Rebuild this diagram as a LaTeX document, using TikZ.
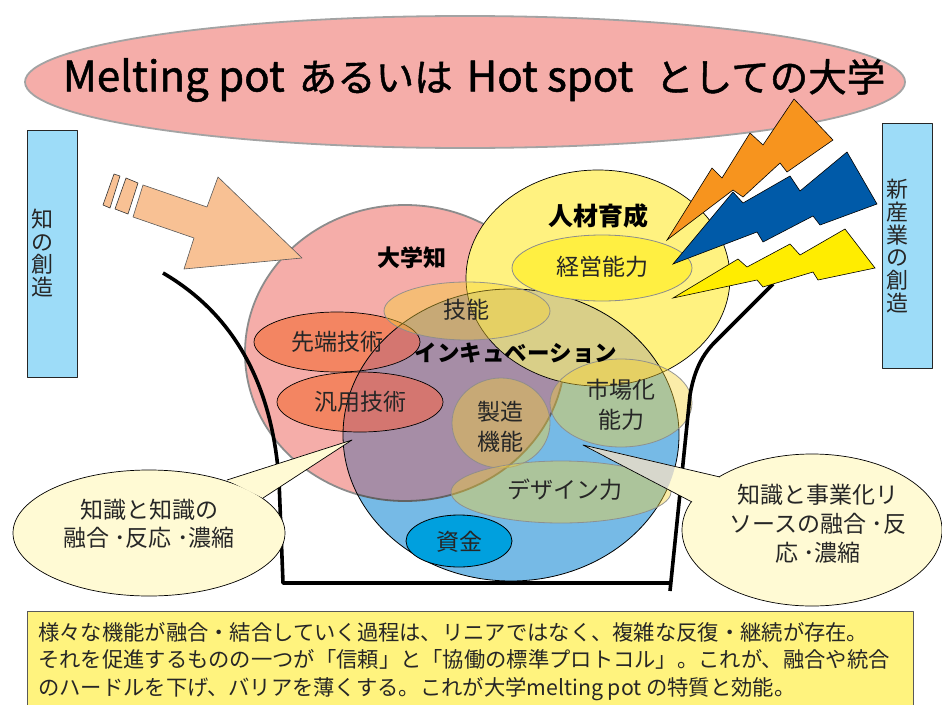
\documentclass[tikz,border=0pt]{standalone}
\usepackage{fontspec}
\setmainfont{Noto Sans CJK JP}
\newfontfamily\titlefont{Noto Sans CJK JP}[FakeBold=1.2]

\definecolor{potpink}{RGB}{245,173,169}
\definecolor{potblue}{RGB}{118,186,230}
\definecolor{potyellow}{RGB}{255,242,128}
\definecolor{mauve}{RGB}{166,141,166}
\definecolor{khaki}{RGB}{217,207,136}
\definecolor{redell}{RGB}{243,133,98}
\definecolor{redin}{RGB}{212,118,112}
\definecolor{goldtint}{RGB}{247,210,52}
\definecolor{mgmt}{RGB}{255,239,66}
\definecolor{fund}{RGB}{0,160,222}
\definecolor{cream}{RGB}{255,250,212}
\definecolor{creamgray}{RGB}{215,215,204}
\definecolor{sidebox}{RGB}{157,220,248}
\definecolor{peach}{RGB}{248,193,148}
\definecolor{boltorange}{RGB}{247,148,30}
\definecolor{boltblue}{RGB}{0,90,168}
\definecolor{boltyellow}{RGB}{255,237,0}
\definecolor{notebox}{RGB}{255,243,126}
\definecolor{ink}{RGB}{38,38,38}
\definecolor{rimgray}{RGB}{140,140,140}

% shapes of the melting pot
\newcommand\shpPink{(405,353) ellipse [x radius=160, y radius=148]}
\newcommand\shpYellow{(598,278) ellipse [x radius=132, y radius=108]}
\newcommand\shpBlue{(511,435) ellipse [x radius=168, y radius=146]}
\newcommand\shpSentan{(337,342) ellipse [x radius=83, y radius=30]}
\newcommand\shpHanyo{(360,402) ellipse [x radius=83, y radius=30]}
\newcommand\latin{\fontsize{42}{44}\selectfont}
\newcommand\kana{\fontsize{38.5}{44}\selectfont}

\tikzset{
  lbl/.style={font=\fontsize{23}{26}\selectfont, text=ink, inner sep=0pt, align=center},
  lblbold/.style={font=\bfseries\fontsize{23}{26}\selectfont, text=black, inner sep=0pt},
  tint/.style={fill=goldtint, fill opacity=0.42, draw=rimgray, draw opacity=0.9, line width=0.8pt},
  redrim/.style={draw=black, line width=0.7pt},
  potline/.style={line width=3.6pt, black},
  bolt/.style={draw=black, line width=0.6pt, line join=miter},
  sidetext/.style={font=\fontsize{22}{22.8}\selectfont, text=ink, inner sep=0pt, align=center},
}

\begin{document}
\begin{tikzpicture}[x=1pt, y=-1pt, line join=round]
\useasboundingbox (0,0) rectangle (942,704);
\fill[white] (0,0) rectangle (942,704);

% ---- title ----
\filldraw[fill=potpink, draw=rimgray!80, line width=1.8pt] (465,82) ellipse [x radius=440, y radius=66];
\node[font=\titlefont, text=black, inner sep=0pt] (title) at (474,80)
  {{\latin Melting pot}\hspace{14pt}{\kana あるいは}\hspace{14pt}{\latin Hot spot}\hspace{22pt}{\kana としての大学}};

% ---- circles of the pot ----
\fill[potpink] \shpPink;
\draw[rimgray, line width=1.8pt] \shpPink;
\fill[potyellow] \shpYellow;
\fill[redell] \shpSentan;
\fill[redell] \shpHanyo;
\fill[potblue] \shpBlue;
\begin{scope}
  \clip \shpBlue;
  \fill[mauve] \shpPink;
  \fill[redin] \shpSentan;
  \fill[redin] \shpHanyo;
  \draw[rimgray!70!black, line width=1.8pt] \shpPink;
  \fill[khaki] \shpYellow;
\end{scope}
\draw[black, line width=0.7pt] \shpYellow;
\draw[black, line width=0.8pt] \shpBlue;
\draw[redrim] \shpSentan;
\draw[redrim] \shpHanyo;

% inner function ellipses
\filldraw[fill=mgmt, draw=rimgray, line width=0.8pt] (602,268) ellipse [x radius=90, y radius=33];
\path[tint] (467,311) ellipse [x radius=83, y radius=29];
\path[tint] (501,423) ellipse [x radius=49, y radius=45];
\path[tint] (621,403) ellipse [x radius=71, y radius=44];
\path[tint] (561,492) ellipse [x radius=110, y radius=31];
\filldraw[fill=fund, draw=black, line width=0.8pt] (459,541) ellipse [x radius=53, y radius=26];

% labels
\node[lblbold] (daigakuchi) at (412,258) {大学知};
\node[lblbold, font=\bfseries\fontsize{25}{28}\selectfont] (jinzai) at (598,216) {人材育成};
\node[lbl] (keiei) at (602,267) {経営能力};
\node[lbl] (gino) at (466,310) {技能};
\node[lbl] (sentan) at (337,342) {先端技術};
\node[lbl] (hanyo) at (360,402) {汎用技術};
\node[lblbold, font=\bfseries\fontsize{22.5}{26}\selectfont] (incub) at (516,353) {インキュベーション};
\node[lbl, font=\fontsize{23}{30}\selectfont] (shijo) at (621,405) {市場化\\能力};
\node[lbl, font=\fontsize{23}{30}\selectfont] (seizo) at (500,427) {製造\\機能};
\node[lbl] (design) at (565,490) {デザイン力};
\node[lbl] (shikin) at (459,542) {資金};

% ---- knowledge arrow ----
\filldraw[fill=peach, draw=gray!70!black, line width=0.6pt]
  (143,185) -- (207,207) -- (218,177) -- (302,258) -- (184,269) -- (194,238) -- (133,217) -- cycle;
\filldraw[fill=peach, draw=black!80, line width=0.6pt] (103,205) -- (110,208) -- (120,176) -- (114,174) -- cycle;
\filldraw[fill=peach, draw=black!80, line width=0.6pt] (115,209) -- (128,214) -- (138,183) -- (126,178) -- cycle;

% ---- pot walls ----
\coordinate (lwtop) at (163,273);
\coordinate (lwbot) at (283,583);
\coordinate (rwbot) at (671,583);
\coordinate (rwtop) at (773,284);
\coordinate (rwend) at (670,591);
\draw[potline] (lwtop) .. controls (235,315) and (272,385) .. (279,480) -- (lwbot) -- (rwbot);
\draw[potline] (rwtop) -- (713,344) .. controls (701,357) and (694,372) .. (690,395) -- (rwend);

% ---- lightning bolts ----
\filldraw[bolt, fill=boltorange] (667,240) -- (712,168) -- (722,178) -- (750,133) -- (763,145) -- (794,99)
  -- (833,140) -- (787,172) -- (780,163) -- (743,197) -- (733,190) -- cycle;
\filldraw[bolt, fill=boltblue] (673,264) -- (733,192) -- (743,203) -- (790,176) -- (800,191) -- (847,152)
  -- (877,204) -- (820,225) -- (813,216) -- (763,242) -- (757,232) -- cycle;
\filldraw[bolt, fill=boltyellow] (673,298) -- (738,259) -- (747,267) -- (790,244) -- (800,255) -- (845,229)
  -- (875,268) -- (818,280) -- (813,272) -- (763,287) -- (757,280) -- cycle;

% ---- side boxes ----
\filldraw[fill=sidebox, draw=black!85, line width=0.8pt] (27,130) rectangle (77,377);
\node[sidetext] (chi) at (42,253) {知\\の\\創\\造};
\filldraw[fill=sidebox, draw=black!85, line width=0.8pt] (882,123) rectangle (932,368);
\node[sidetext] (shinsangyo) at (897,246) {新\\産\\業\\の\\創\\造};

% ---- left callout ----
\coordinate (lctip) at (352,440);
\coordinate (lcb1) at (227,480);
\coordinate (lcb2) at (263,498);
\filldraw[fill=cream, draw=black, line width=0.7pt] (149,533) ellipse [x radius=136, y radius=63];
\fill[cream] (lcb1) -- (lctip) -- (lcb2) -- cycle;
\draw[black, line width=0.7pt] (lcb1) -- (lctip) -- (lcb2);
\node[lbl, font=\fontsize{23}{28}\selectfont] (lctext) at (149,524) {知識と知識の\\融合 ･反応 ･濃縮};

% ---- right callout ----
\coordinate (rctip) at (583,445);
\coordinate (rcb1) at (720,477);
\coordinate (rcb2) at (692,502);
\filldraw[fill=cream, draw=black, line width=0.7pt] (812,530) ellipse [x radius=130, y radius=76];
\fill[cream] (rcb1) -- (rctip) -- (rcb2) -- cycle;
\begin{scope}
  \clip \shpBlue;
  \fill[creamgray] (rcb1) -- (rctip) -- (rcb2) -- cycle;
\end{scope}
\draw[black, line width=0.7pt] (rcb1) -- (rctip) -- (rcb2);
\node[lbl, font=\fontsize{23}{29}\selectfont] (rctext) at (818,524) {知識と事業化リ\\ソースの融合 ･反\\応 ･濃縮};

% ---- note box ----
\filldraw[fill=notebox, draw=gray!70!black, line width=0.8pt] (27,611) rectangle (913,712);
\node[anchor=north west, align=left, inner sep=0pt, text=ink, font=\fontsize{21.3}{27.5}\selectfont] (note) at (38,622)
  {様々な機能が融合・結合していく過程は、リニアではなく、複雑な反復・継続が存在。\\
   それを促進するものの一つが「信頼」と「協働の標準プロトコル」。これが、融合や統合\\
   のハードルを下げ、バリアを薄くする。これが大学melting pot の特質と効能。};
\end{tikzpicture}
\end{document}
